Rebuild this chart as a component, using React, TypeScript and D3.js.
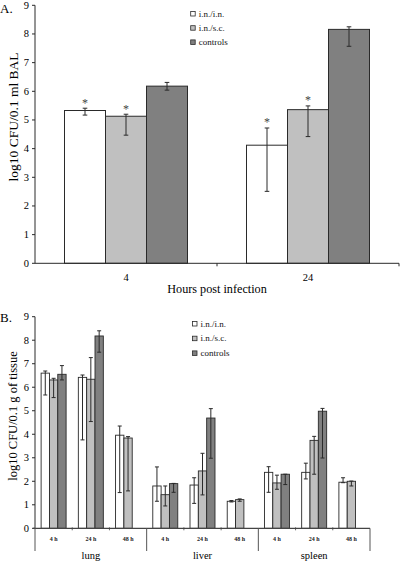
import React from "react";
import * as d3 from "d3";

// ---------- Data: panel A ----------
const hoursA = ["4", "24"];
const seriesNames = ["i.n./i.n.", "i.n./s.c.", "controls"];
const seriesColors = ["#ffffff", "#c0c0c0", "#808080"];

const aIninMean = [5.33, 4.12];
const aIninLo = [5.17, 2.51];
const aIninHi = [5.41, 4.72];
const aInscMean = [5.13, 5.36];
const aInscLo = [4.47, 4.42];
const aInscHi = [5.2, 5.49];
const aCtrlMean = [6.18, 8.16];
const aCtrlLo = [6.04, 7.57];
const aCtrlHi = [6.31, 8.25];
const aStarIn = [true, true];
const aStarSc = [true, true];

// ---------- Data: panel B ----------
const organs = ["lung", "liver", "spleen"];
const timesB = ["4 h", "24 h", "48 h"];

const bIninMean = [6.6, 6.42, 3.96, 1.8, 1.84, 1.15, 2.38, 2.38, 1.96];
const bIninLo = [5.67, 3.76, 1.52, 1.15, 1.06, 1.12, 1.53, 2.1, 1.94];
const bIninHi = [6.69, 6.52, 4.35, 2.61, 2.15, 1.18, 2.62, 2.77, 2.15];
const bInscMean = [6.31, 6.34, 3.84, 1.43, 2.44, 1.22, 1.93, 3.74, 2.0];
const bInscLo = [5.56, 4.54, 1.59, 0.95, 1.42, 1.15, 1.66, 2.3, 1.8];
const bInscHi = [6.38, 7.26, 3.9, 1.8, 3.19, 1.25, 2.26, 3.91, 2.01];
const bCtrlMean = [6.55, 8.18, null, 1.9, 4.69, null, 2.3, 4.98, null];
const bCtrlLo = [6.31, 7.49, null, 1.53, 2.98, null, 1.86, 2.99, null];
const bCtrlHi = [6.92, 8.4, null, 1.91, 5.09, null, 2.3, 5.1, null];

const yTicks = [0, 1, 2, 3, 4, 5, 6, 7, 8, 9];

const FONT = "'Liberation Serif', 'Times New Roman', serif";
const STROKE = "#2a2a2a";

function ErrorBar({ x, y1, y2, cap }: { x: number; y1: number; y2: number; cap: number }) {
  return (
    <g stroke={STROKE} strokeWidth={1}>
      <line x1={x} x2={x} y1={y1} y2={y2} />
      <line x1={x - cap} x2={x + cap} y1={y1} y2={y1} />
      <line x1={x - cap} x2={x + cap} y1={y2} y2={y2} />
    </g>
  );
}

function Legend({ x, y, gap, size }: { x: number; y: number; gap: number; size: number }) {
  return (
    <g>
      {seriesNames.map((n, i) => (
        <g key={n}>
          <rect
            x={x}
            y={y + i * gap - 2.5}
            width={4.5}
            height={4.5}
            fill={seriesColors[i]}
            stroke={STROKE}
            strokeWidth={0.8}
          />
          <text x={x + 8} y={y + i * gap + 2.5} fontSize={size} fontFamily={FONT} fill="#111">
            {n}
          </text>
        </g>
      ))}
    </g>
  );
}

function PanelA() {
  const left = 35,
    right = 399,
    top = 5.3,
    bottom = 263.3;
  const x = d3.scaleBand<string>().domain(hoursA).range([left, right]).padding(0);
  const y = d3.scaleLinear().domain([0, 9]).range([bottom, top]);
  const barW = 41;
  const means = [aIninMean, aInscMean, aCtrlMean];
  const los = [aIninLo, aInscLo, aCtrlLo];
  const his = [aIninHi, aInscHi, aCtrlHi];
  const stars = [aStarIn, aStarSc, null];

  return (
    <g>
      <text x={0} y={13} fontSize={13} fontFamily={FONT}>A.</text>
      {/* y axis */}
      <line x1={left} x2={left} y1={top} y2={bottom} stroke={STROKE} />
      {yTicks.map((t) => (
        <g key={t}>
          <line x1={left - 3} x2={left} y1={y(t)} y2={y(t)} stroke={STROKE} />
          <text x={29} y={y(t) + 3.5} fontSize={10.5} fontFamily={FONT} textAnchor="end">
            {t}
          </text>
        </g>
      ))}
      <text
        transform={`translate(18,117) rotate(-90)`}
        fontSize={13.5}
        fontFamily={FONT}
        textAnchor="middle"
      >
        log10 CFU/0.1 ml BAL
      </text>
      {/* bars */}
      {hoursA.map((h, i) => {
        const cx = (x(h) as number) + x.bandwidth() / 2;
        const x0 = cx - (barW * 3) / 2;
        return (
          <g key={h}>
            {means.map((m, s) => {
              const bx = x0 + s * barW;
              const mid = bx + barW / 2;
              return (
                <g key={s}>
                  <rect
                    x={bx}
                    y={y(m[i])}
                    width={barW}
                    height={bottom - y(m[i])}
                    fill={seriesColors[s]}
                    stroke={STROKE}
                    strokeWidth={1}
                  />
                  <ErrorBar x={mid} y1={y(his[s][i])} y2={y(los[s][i])} cap={2.3} />
                  {stars[s] && stars[s]![i] ? (
                    <text x={mid} y={y(his[s][i]) - 1.5} fontSize={12} fontFamily={FONT} textAnchor="middle" fill="#444">
                      *
                    </text>
                  ) : null}
                </g>
              );
            })}
          </g>
        );
      })}
      {/* x axis */}
      <line x1={left} x2={right} y1={bottom} y2={bottom} stroke={STROKE} />
      {[left + x.bandwidth(), right].map((tx, i) => (
        <line key={i} x1={tx} x2={tx} y1={bottom} y2={bottom + 3} stroke={STROKE} />
      ))}
      {hoursA.map((h) => (
        <text
          key={h}
          x={(x(h) as number) + x.bandwidth() / 2}
          y={281}
          fontSize={10.5}
          fontFamily={FONT}
          textAnchor="middle"
        >
          {h}
        </text>
      ))}
      <text x={(left + right) / 2} y={292.5} fontSize={12.2} fontFamily={FONT} textAnchor="middle">
        Hours post infection
      </text>
      <Legend x={190.7} y={14} gap={14.2} size={9} />
    </g>
  );
}

function PanelB() {
  const left = 35,
    right = 370,
    top = 316.7,
    bottom = 528.3;
  const idx = d3.range(organs.length * timesB.length).map(String);
  const x = d3.scaleBand<string>().domain(idx).range([left, right]).padding(0);
  const y = d3.scaleLinear().domain([0, 9]).range([bottom, top]);
  const barW = 8.33;
  const means = [bIninMean, bInscMean, bCtrlMean];
  const los = [bIninLo, bInscLo, bCtrlLo];
  const his = [bIninHi, bInscHi, bCtrlHi];
  const groupW = x.bandwidth() * timesB.length;

  return (
    <g>
      <text x={0} y={321.5} fontSize={13} fontFamily={FONT}>B.</text>
      <line x1={left} x2={left} y1={top} y2={bottom} stroke={STROKE} />
      {yTicks.map((t) => (
        <g key={t}>
          <line x1={left - 3} x2={left} y1={y(t)} y2={y(t)} stroke={STROKE} />
          <text x={29} y={y(t) + 3.5} fontSize={10.5} fontFamily={FONT} textAnchor="end">
            {t}
          </text>
        </g>
      ))}
      <text
        transform={`translate(17,416) rotate(-90)`}
        fontSize={12.5}
        fontFamily={FONT}
        textAnchor="middle"
      >
        log10 CFU/0.1 g of tissue
      </text>
      {idx.map((k, i) => {
        const cx = (x(k) as number) + x.bandwidth() / 2;
        const x0 = cx - (barW * 3) / 2;
        return (
          <g key={k}>
            {means.map((m, s) => {
              const v = m[i];
              if (v === null || v === undefined) return null;
              const bx = x0 + s * barW;
              const mid = bx + barW / 2;
              return (
                <g key={s}>
                  <rect
                    x={bx}
                    y={y(v)}
                    width={barW}
                    height={bottom - y(v)}
                    fill={seriesColors[s]}
                    stroke={STROKE}
                    strokeWidth={0.9}
                  />
                  <ErrorBar x={mid} y1={y(his[s][i] as number)} y2={y(los[s][i] as number)} cap={2} />
                </g>
              );
            })}
          </g>
        );
      })}
      {/* x axis */}
      <line x1={left - 2} x2={right} y1={bottom} y2={bottom} stroke="#444" strokeWidth={1.3} />
      {idx.map((k, i) =>
        i % 3 !== 0 ? (
          <line
            key={"t" + k}
            x1={x(k) as number}
            x2={x(k) as number}
            y1={bottom - 1}
            y2={bottom + 2}
            stroke="#444"
            strokeWidth={0.8}
          />
        ) : null
      )}
      {d3.range(organs.length + 1).map((g) => (
        <line
          key={"s" + g}
          x1={left + g * groupW}
          x2={left + g * groupW}
          y1={bottom}
          y2={551}
          stroke="#555"
          strokeWidth={1}
        />
      ))}
      {idx.map((k, i) => (
        <text
          key={"l" + k}
          x={(x(k) as number) + x.bandwidth() / 2}
          y={541}
          fontSize={6}
          fontWeight="bold"
          fontFamily={FONT}
          textAnchor="middle"
          fill="#222"
        >
          {timesB[i % 3]}
        </text>
      ))}
      {organs.map((o, g) => (
        <text
          key={o}
          x={left + g * groupW + groupW / 2}
          y={558.5}
          fontSize={10.5}
          fontFamily={FONT}
          textAnchor="middle"
        >
          {o}
        </text>
      ))}
      <Legend x={192.5} y={324} gap={14.7} size={9} />
    </g>
  );
}

export default function App() {
  return (
    <svg
      width={400}
      height={561}
      style={{ position: "absolute", left: 0, top: 0, background: "#fff" }}
    >
      <rect width={400} height={561} fill="#fff" />
      <PanelA />
      <PanelB />
    </svg>
  );
}
